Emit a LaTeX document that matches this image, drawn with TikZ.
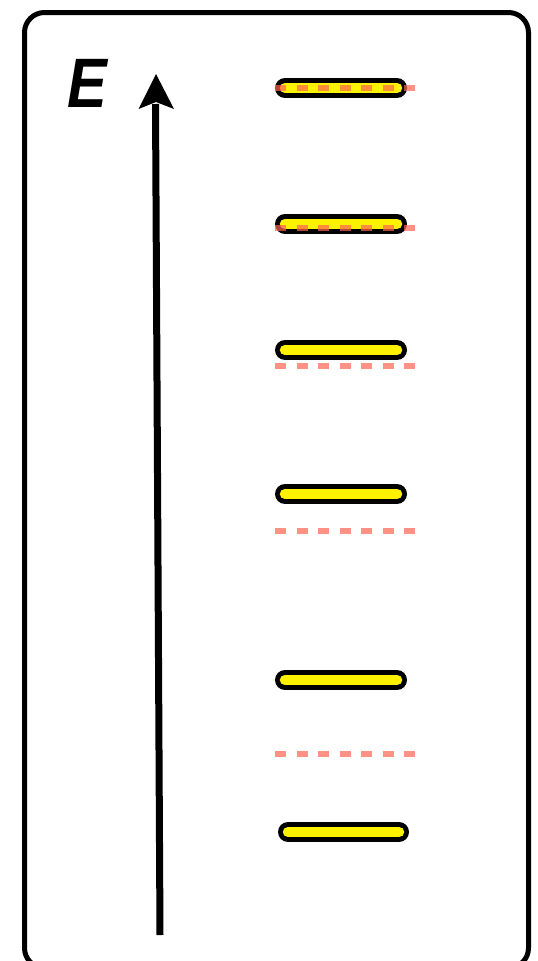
\documentclass[tikz,border=0pt]{standalone}
\usepackage{fontspec}
\setmainfont{Liberation Sans}
\begin{document}
\begin{tikzpicture}[x=1pt,y=-1pt,
  frame/.style={line width=5pt,rounded corners=20pt},
  barout/.style={line width=20pt,line cap=round,black},
  barin/.style={line width=10.5pt,line cap=round,yellow},
  level/.style={line width=5.5pt,draw=salmonc,draw opacity=0.7,dash pattern=on 11pt off 10.5pt},
  axis/.style={line width=7pt}]
\definecolor{salmonc}{RGB}{255,100,80}
\useasboundingbox (0,0) rectangle (538,961);
\draw[frame] (24.5,12.5) rectangle (528.5,968);
% axis
\coordinate (a0) at (160,935);
\coordinate (a1) at (155.5,104);
\coordinate (tip) at (156,74);
\draw[axis] (a0) -- (a1);
\fill (tip) -- (138.5,109) -- (156,102) -- (174,109) -- cycle;
\node[font=\bfseries\itshape\fontsize{70}{70}\selectfont,inner sep=0pt,xscale=0.85] (E) at (87.5,83) {E};
% bars
\foreach \y/\xa/\xb [count=\i] in {88/285/397,224/285/397,350/285/397,494/285/397,680/285/397,832/288/399}{
  \coordinate (b\i l) at (\xa,\y);
  \coordinate (b\i r) at (\xb,\y);
  \draw[barout] (b\i l) -- (b\i r);
  \draw[barin] (b\i l) -- (b\i r);
}
% dashed levels
\foreach \y [count=\i] in {88,228,366,531,754}{
  \coordinate (d\i l) at (275,\y);
  \coordinate (d\i r) at (416,\y);
  \draw[level] (d\i l) -- (d\i r);
}
\end{tikzpicture}
\end{document}
